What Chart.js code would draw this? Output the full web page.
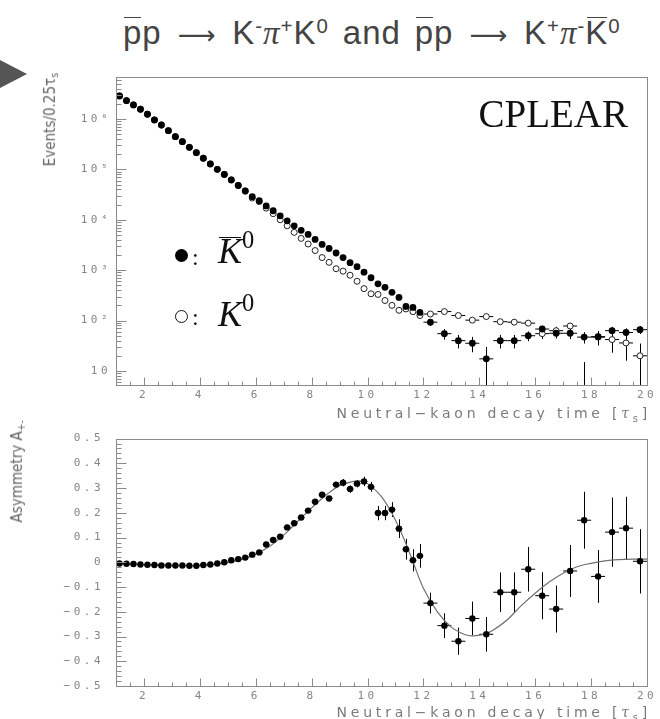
<!DOCTYPE html>
<html>
<head>
<meta charset="utf-8">
<script src="https://cdn.jsdelivr.net/npm/chart.js@4.4.1/dist/chart.umd.min.js"></script>
<style>
  html, body { margin: 0; padding: 0; background: #fff; }
  body { width: 660px; height: 719px; position: relative; overflow: hidden; }
  canvas { position: absolute; left: 0; }
  #cTop { top: 60px; }
  #cBot { top: 420px; }
  .txt { position: absolute; white-space: nowrap; z-index: 2; }
  #arrow { position: absolute; left: 0; top: 60px; width: 0; height: 0;
           border-left: 27px solid #555; border-top: 14px solid transparent; border-bottom: 14px solid transparent; }
  #title { left: 123px; top: 13px; font: 33px 'Liberation Sans', Arial, sans-serif; color: #444; line-height: 1.2; letter-spacing: 1px; }
  #title sup { font-size: 0.62em; vertical-align: 0.55em; line-height: 0; }
  #title .pi { font-family: 'Liberation Serif', serif; font-style: italic; }
  #title .to { font-family: 'DejaVu Sans', sans-serif; font-size: 0.8em; padding: 0 0.6em; }
  #title .gap { padding: 0 0.42em; }
  .ov { position: relative; display: inline-block; }
  .ov::before { content: ''; position: absolute; left: 0.04em; right: 0.04em; top: 0.12em; border-top: 1.5px solid currentColor; }
  .ytitle { writing-mode: vertical-rl; transform: rotate(180deg); font: 15px 'Liberation Sans Narrow', 'DejaVu Sans Condensed', sans-serif; color: #666; line-height: 18px; }
  .ytitle sub { font-size: 0.7em; }
  .xtitle { right: 9px; font: 14px 'DejaVu Sans', sans-serif; letter-spacing: 3.8px; color: #7a7a7a; line-height: 16px; }
  .xtitle i { font-family: 'DejaVu Serif', serif; }
  .xtitle sub { font-size: 0.7em; }
  .leg { font: italic 36px 'Liberation Serif', serif; color: #111; line-height: 36px; }
  .leg sup { font-size: 0.68em; vertical-align: 0.62em; line-height: 0; font-style: normal; }
  .colon { font: 24px 'Liberation Serif', serif; color: #111; line-height: 24px; }
  .dot { position: absolute; border-radius: 50%; box-sizing: border-box; z-index: 2; }
  #cplear { font: 39px 'Liberation Serif', serif; color: #111; line-height: 39px; right: 32px; top: 94px; }
</style>
</head>
<body>
<div id="arrow"></div>
<div id="title" class="txt"><span class="ov">p</span>p<span class="to">⟶</span>K<sup>-</sup><span class="pi">π</span><sup>+</sup>K<sup>0</sup><span class="gap">and</span><span class="ov">p</span>p<span class="to">⟶</span>K<sup>+</sup><span class="pi">π</span><sup>-</sup><span class="ov">K</span><sup>0</sup></div>

<canvas id="cTop" width="660" height="360"></canvas>
<canvas id="cBot" width="660" height="299"></canvas>

<div class="txt ytitle" style="left:41px; top:73px;">Events/0.25τ<sub>s</sub></div>
<div class="txt ytitle" style="left:8px; top:420px;">Asymmetry A<sub>+-</sub></div>
<div class="txt xtitle" style="top:405px;">Neutral−kaon decay time [<i>τ</i><sub>s</sub>]</div>
<div class="txt xtitle" style="top:704px;">Neutral−kaon decay time [<i>τ</i><sub>s</sub>]</div>

<div id="cplear" class="txt">CPLEAR</div>
<div class="dot" style="left:175px; top:249px; width:13px; height:13px; background:#000;"></div>
<div class="txt colon" style="left:192px; top:245px;">:</div>
<div class="txt leg" style="left:218px; top:233px;"><span class="ov">K</span><sup>0</sup></div>
<div class="dot" style="left:175px; top:310px; width:13px; height:13px; border:1.5px solid #111; background:#fff;"></div>
<div class="txt colon" style="left:192px; top:305px;">:</div>
<div class="txt leg" style="left:218px; top:296px;">K<sup>0</sup></div>

<script>
// ---- decay-time bins (units of tau_S) ----
const tauFine = [1.125, 1.375, 1.625, 1.875, 2.125, 2.375, 2.625, 2.875, 3.125, 3.375, 3.625,
  3.875, 4.125, 4.375, 4.625, 4.875, 5.125, 5.375, 5.625, 5.875, 6.125, 6.375, 6.625, 6.875,
  7.125, 7.375, 7.625, 7.875, 8.125, 8.375, 8.625, 8.875, 9.125, 9.375, 9.625, 9.875, 10.125,
  10.375, 10.625, 10.875, 11.125, 11.375, 11.625, 11.875];
const tauCoarse = [12.25, 12.75, 13.25, 13.75, 14.25, 14.75, 15.25, 15.75, 16.25, 16.75,
  17.25, 17.75, 18.25, 18.75, 19.25, 19.75];

// ---- events per 0.25 tau_S ----
const kbarFine = [2860000, 2310000, 1900000, 1560000, 1240000, 955000, 759000, 586000, 446000,
  355000, 274000, 214000, 166000, 128000, 100000, 79400, 61700, 47900, 37200, 28700, 23900,
  18800, 15100, 12000, 9550, 7590, 6170, 5130, 4070, 3240, 2690, 2190, 1780, 1410, 1175, 912,
  708, 537, 457, 363, 288, 191, 182, 145];
const k0Fine = [2860000, 2310000, 1900000, 1560000, 1240000, 955000, 759000, 586000, 446000,
  355000, 274000, 214000, 166000, 128000, 100000, 79400, 61700, 47900, 37200, 27000, 22900,
  17000, 13200, 10000, 7590, 5620, 4270, 3310, 2450, 1780, 1430, 1070, 955, 794, 603, 430,
  340, 330, 250, 200, 160, 170, 150, 126];
const kbarCoarse = [93, 55, 40, 35.5, 17.4, 40, 40, 50, 68, 56, 56, 47, 48, 63, 58, 66];
const kbarCoarseErr = [15, 13, 12, 12, 12.5, 12, 12, 11, 11, 12, 13, 12, 14, 12, 12, 12];
const k0Coarse = [135, 151, 126, 102, 120, 95, 93, 89, 55, 63, 78, 2, 47, 42, 36, 20];
const k0CoarseErr = [10, 10, 10, 9, 10, 9, 9, 9, 12, 12, 12, 13, 15, 19, 20, 15];

// ---- asymmetry A+- ----
const asymFine = [-0.005, -0.006, -0.007, -0.009, -0.010, -0.011, -0.013, -0.013, -0.013,
  -0.013, -0.014, -0.014, -0.011, -0.009, -0.005, 0.0, 0.008, 0.013, 0.019, 0.031, 0.040,
  0.072, 0.090, 0.103, 0.141, 0.158, 0.181, 0.209, 0.245, 0.273, 0.258, 0.314, 0.322, 0.296,
  0.318, 0.327, 0.305, 0.199, 0.199, 0.213, 0.136, 0.053, 0.008, 0.026];
const asymFineErr = [0.004, 0.004, 0.004, 0.004, 0.004, 0.004, 0.004, 0.004, 0.004, 0.004,
  0.004, 0.004, 0.004, 0.004, 0.004, 0.004, 0.004, 0.004, 0.004, 0.004, 0.007, 0.007, 0.007,
  0.007, 0.007, 0.007, 0.007, 0.007, 0.010, 0.010, 0.010, 0.010, 0.015, 0.015, 0.015, 0.019,
  0.020, 0.029, 0.029, 0.030, 0.038, 0.042, 0.045, 0.048];
const asymCoarse = [-0.165, -0.256, -0.319, -0.227, -0.291, -0.121, -0.121, -0.028, -0.135,
  -0.189, -0.035, 0.170, -0.057, 0.122, 0.138, 0.004];
const asymCoarseErr = [0.042, 0.050, 0.055, 0.068, 0.070, 0.080, 0.080, 0.090, 0.095, 0.095,
  0.105, 0.115, 0.107, 0.140, 0.127, 0.130];

// ---- fitted asymmetry curve ----
const fitTau = [1, 2, 3, 3.5, 4, 4.5, 5, 5.5, 6, 6.5, 7, 7.5, 8, 8.5, 9, 9.5, 9.75, 10, 10.5,
  11, 11.5, 12, 12.5, 13, 13.5, 13.8, 14.25, 14.5, 15, 15.5, 16, 16.5, 17, 17.5, 18, 18.5, 19,
  19.5, 20];
const fitAsym = [-0.006, -0.009, -0.012, -0.013, -0.012, -0.008, -0.001, 0.012, 0.033, 0.065,
  0.110, 0.165, 0.220, 0.270, 0.310, 0.327, 0.328, 0.318, 0.265, 0.170, 0.040, -0.105, -0.200,
  -0.262, -0.293, -0.297, -0.288, -0.274, -0.232, -0.175, -0.125, -0.080, -0.044, -0.018,
  -0.004, 0.006, 0.011, 0.013, 0.013];

// ---- axis tick labels ----
const xTickValues = [2, 4, 6, 8, 10, 12, 14, 16, 18, 20];
const xTickLabels = ['2', '4', '6', '8', '10', '12', '14', '16', '18', '20'];
const logTickValues = [10, 100, 1000, 10000, 100000, 1000000];
const logTickLabels = ['10', '10²', '10³', '10⁴', '10⁵', '10⁶'];
const asymTickValues = [-0.5, -0.4, -0.3, -0.2, -0.1, 0, 0.1, 0.2, 0.3, 0.4, 0.5];
const asymTickLabels = ['−0.5', '−0.4', '−0.3', '−0.2', '−0.1', '0', '0.1', '0.2', '0.3', '0.4', '0.5'];

const AXIS_GREY = '#8a8a8a';
const LABEL_GREY = '#858585';
const TICK_FONT = { family: 'DejaVu Sans Mono', size: 11 };

const pts = (xs, ys) => xs.map((x, i) => ({ x, y: ys[i] }));

// wide, letter-spaced tick labels
const spacedText = {
  id: 'spacedText',
  beforeDraw(chart) { chart.ctx.letterSpacing = '3.5px'; },
  afterDraw(chart) { chart.ctx.letterSpacing = '0px'; }
};

// vertical and horizontal error bars, drawn under the markers
const errorBars = {
  id: 'errorBars',
  beforeDatasetsDraw(chart) {
    const { ctx, chartArea: a, scales: { x, y } } = chart;
    ctx.save();
    ctx.beginPath();
    ctx.rect(a.left, a.top, a.right - a.left, a.bottom - a.top);
    ctx.clip();
    ctx.strokeStyle = '#000';
    ctx.lineWidth = 1;
    const yPix = v => (y.type === 'logarithmic' && v <= 0) ? a.bottom + 2 : y.getPixelForValue(v);
    chart.data.datasets.forEach(ds => {
      if (!ds.errY && !ds.halfWidth) return;
      ds.data.forEach((p, j) => {
        const px = Math.round(x.getPixelForValue(p.x)) + 0.5;
        const py = yPix(p.y);
        ctx.beginPath();
        if (ds.halfWidth) {
          ctx.moveTo(x.getPixelForValue(p.x - ds.halfWidth), py);
          ctx.lineTo(x.getPixelForValue(p.x + ds.halfWidth), py);
        }
        if (ds.errY && ds.errY[j]) {
          ctx.moveTo(px, yPix(p.y - ds.errY[j]));
          ctx.lineTo(px, yPix(p.y + ds.errY[j]));
        }
        ctx.stroke();
      });
    });
    ctx.restore();
  }
};

// frame around the plot area with inward ticks
const frameTicks = {
  id: 'frameTicks',
  afterDraw(chart, args, opts) {
    const { ctx, chartArea: a, scales: { x, y } } = chart;
    ctx.save();
    ctx.strokeStyle = AXIS_GREY;
    ctx.lineWidth = 1;
    const L = Math.round(a.left) + 0.5, R = Math.round(a.right) + 0.5;
    const T = Math.round(a.top) + 0.5, B = Math.round(a.bottom) + 0.5;
    ctx.strokeRect(L, T, R - L, B - T);
    ctx.beginPath();
    for (let v = 1.5; v <= 20; v += 0.5) {
      const px = Math.round(x.getPixelForValue(v)) + 0.5;
      const len = (Math.abs(v / 2 - Math.round(v / 2)) < 1e-6) ? 8 : 4;
      ctx.moveTo(px, B); ctx.lineTo(px, B - len);
    }
    opts.yTicks(y).forEach(([v, len]) => {
      const py = Math.round(y.getPixelForValue(v)) + 0.5;
      if (py < T - 0.1 || py > B + 0.1) return;
      ctx.moveTo(L, py); ctx.lineTo(L + len, py);
    });
    ctx.stroke();
    ctx.restore();
  }
};

function logMinorTicks() {
  const out = [];
  for (let e = 0; e <= 6; e++) {
    for (let m = 1; m <= 9; m++) out.push([m * Math.pow(10, e), m === 1 ? 10 : 5]);
  }
  return out;
}
function linMinorTicks() {
  const out = [];
  for (let k = -25; k <= 25; k++) out.push([k * 0.02, (k % 5 === 0) ? 10 : 5]);
  return out;
}

function xScale(height, pad) {
  return {
    type: 'linear', min: 1, max: 20,
    afterBuildTicks: s => { s.ticks = xTickValues.map(v => ({ value: v })); },
    afterFit: s => { s.height = height; },
    grid: { display: false, drawTicks: false }, border: { display: false },
    ticks: { autoSkip: false, maxRotation: 0, padding: pad, color: LABEL_GREY, font: TICK_FONT,
             callback: (v, i) => xTickLabels[i] }
  };
}

const common = {
  responsive: false, animation: false,
  plugins: { legend: { display: false }, tooltip: { enabled: false } }
};

// ---- decay-time distribution (log scale) ----
new Chart(document.getElementById('cTop'), {
  type: 'scatter',
  data: {
    datasets: [
      { label: 'Kbar0', data: pts(tauFine.concat(tauCoarse), kbarFine.concat(kbarCoarse)),
        errY: new Array(tauFine.length).fill(0).concat(kbarCoarseErr), halfWidth: null,
        pointRadius: 3.4, pointBackgroundColor: '#000', pointBorderWidth: 0 },
      { label: 'Kbar0 coarse bins', data: pts(tauCoarse, kbarCoarse), halfWidth: 0.25,
        pointRadius: 0 },
      { label: 'K0', data: pts(tauFine.concat(tauCoarse), k0Fine.concat(k0Coarse)),
        errY: new Array(tauFine.length).fill(0).concat(k0CoarseErr),
        pointRadius: 3, pointBackgroundColor: '#fff', pointBorderColor: '#222', pointBorderWidth: 1 },
      { label: 'K0 coarse bins', data: pts(tauCoarse, k0Coarse), halfWidth: 0.25, pointRadius: 0 }
    ]
  },
  options: Object.assign({}, common, {
    layout: { padding: { top: 17, right: 13, left: 0, bottom: 0 } },
    scales: {
      x: xScale(35, 4),
      y: {
        type: 'logarithmic', min: 5.27, max: 6.8e6,
        afterBuildTicks: s => { s.ticks = logTickValues.map(v => ({ value: v })); },
        afterFit: s => { s.width = 116; },
        grid: { display: false, drawTicks: false }, border: { display: false },
        ticks: { padding: 5, color: LABEL_GREY, font: TICK_FONT, callback: (v, i) => logTickLabels[i] }
      }
    },
    plugins: Object.assign({}, common.plugins, { frameTicks: { yTicks: logMinorTicks } })
  }),
  plugins: [spacedText, errorBars, frameTicks]
});

// ---- asymmetry ----
new Chart(document.getElementById('cBot'), {
  type: 'scatter',
  data: {
    datasets: [
      { label: 'A fine', data: pts(tauFine, asymFine), errY: asymFineErr, halfWidth: 0.125,
        pointRadius: 3.2, pointBackgroundColor: '#000', pointBorderWidth: 0 },
      { label: 'A coarse', data: pts(tauCoarse, asymCoarse), errY: asymCoarseErr, halfWidth: 0.25,
        pointRadius: 3.2, pointBackgroundColor: '#000', pointBorderWidth: 0 },
      { label: 'fit', data: pts(fitTau, fitAsym), showLine: true, tension: 0.4,
        borderColor: '#707070', borderWidth: 1.2, pointRadius: 0, fill: false }
    ]
  },
  options: Object.assign({}, common, {
    layout: { padding: { top: 7, right: 13, left: 0, bottom: 0 } },
    scales: {
      x: xScale(33, 4),
      y: {
        type: 'linear', min: -0.5, max: 0.5,
        afterBuildTicks: s => { s.ticks = asymTickValues.map(v => ({ value: v })); },
        afterFit: s => { s.width = 116; },
        grid: { display: false, drawTicks: false }, border: { display: false },
        ticks: { padding: 12, color: LABEL_GREY, font: TICK_FONT, callback: (v, i) => asymTickLabels[i] }
      }
    },
    plugins: Object.assign({}, common.plugins, { frameTicks: { yTicks: linMinorTicks } })
  }),
  plugins: [spacedText, errorBars, frameTicks]
});
</script>
</body>
</html>
